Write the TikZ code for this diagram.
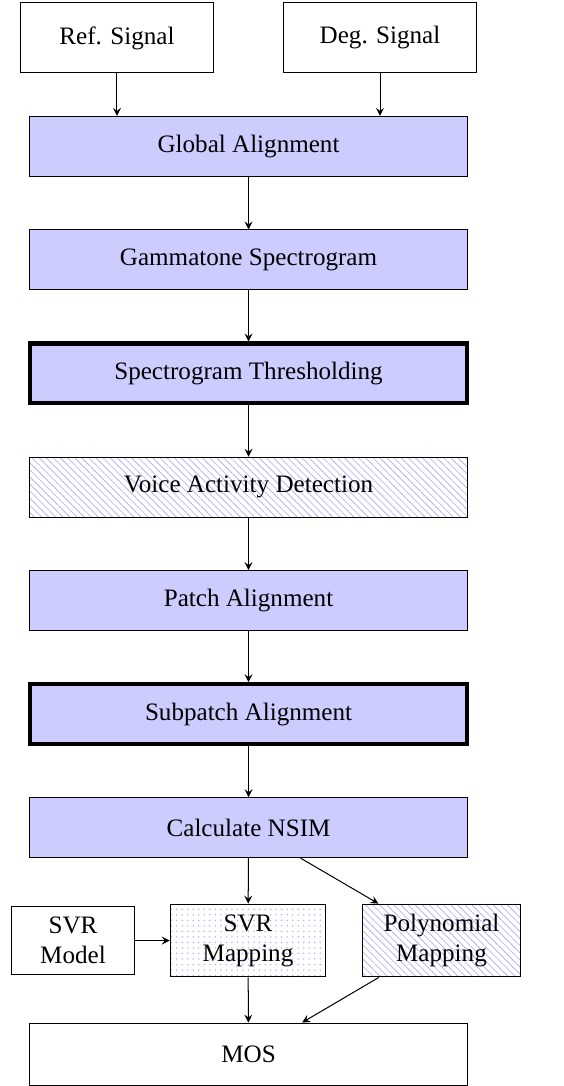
\documentclass[tikz,border=0pt]{standalone}
\usepackage{fontspec}
\setmainfont{Liberation Serif}
\usepackage{tikz}
\usetikzlibrary{arrows.meta, positioning, patterns.meta}
\tikzset{
    signal/.style={rectangle, draw, minimum width=2.69cm, minimum height=0.98cm, text centered},
    stagebox/.style={rectangle, draw, fill=blue!20, minimum width=6.12cm, minimum height=0.84cm, text centered},
    keystage/.style={stagebox, line width=1.6pt},
    hatched/.style={rectangle, draw, pattern={Lines[angle=-45, distance=2pt, line width=0.25pt]}, pattern color=blue!35, minimum height=0.84cm, text centered},
    dotted box/.style={rectangle, draw, pattern={Dots[distance=2.2pt, radius=0.3pt]}, pattern color=blue!35, minimum height=1.02cm, text centered, align=center},
    mapbox/.style={rectangle, draw, minimum width=2.2cm, minimum height=1.02cm, text centered, align=center},
    flow/.style={->, >=stealth}
}
\begin{document}
\begin{tikzpicture}
    \useasboundingbox (0,0) rectangle (7.884,-15.207);
    % Input signals
    \node[signal] (ref) at (1.638,-0.532) {Ref. Signal};
    \node[signal] (deg) at (5.321,-0.532) {Deg. Signal};

    % Processing chain
    \node[stagebox] (global) at (3.48,-2.05) {Global Alignment};
    \node[stagebox] (gamma) at (3.48,-3.64) {Gammatone Spectrogram};
    \node[keystage] (thresh) at (3.48,-5.23) {Spectrogram Thresholding};
    \node[hatched, minimum width=6.12cm] (vad) at (3.48,-6.82) {Voice Activity Detection};
    \node[stagebox] (patch) at (3.48,-8.41) {Patch Alignment};
    \node[keystage] (subpatch) at (3.48,-10.0) {Subpatch Alignment};
    \node[stagebox] (nsim) at (3.48,-11.59) {Calculate NSIM};

    % Mapping stage
    \node[mapbox, minimum width=1.71cm, minimum height=0.95cm] (svrmodel) at (1.022,-13.17) {SVR\\ Model};
    \node[dotted box, minimum width=2.18cm] (svrmap) at (3.473,-13.17) {SVR\\ Mapping};
    \node[hatched, minimum width=2.2cm, minimum height=1.02cm, align=center] (poly) at (6.182,-13.17) {Polynomial\\ Mapping};
    \node[rectangle, draw, minimum width=6.12cm, minimum height=0.87cm] (mos) at (3.48,-14.76) {MOS};

    % Flows
    \draw[flow] (ref) -- (ref |- global.north);
    \draw[flow] (deg) -- (deg |- global.north);
    \draw[flow] (global) -- (gamma);
    \draw[flow] (gamma) -- (thresh);
    \draw[flow] (thresh) -- (vad);
    \draw[flow] (vad) -- (patch);
    \draw[flow] (patch) -- (subpatch);
    \draw[flow] (subpatch) -- (nsim);
    \draw[flow] (nsim) -- (svrmap);
    \draw[flow] (nsim) -- (poly);
    \draw[flow] (svrmodel) -- (svrmap);
    \draw[flow] (svrmap) -- (mos);
    \draw[flow] (poly) -- (mos);
\end{tikzpicture}
\end{document}
